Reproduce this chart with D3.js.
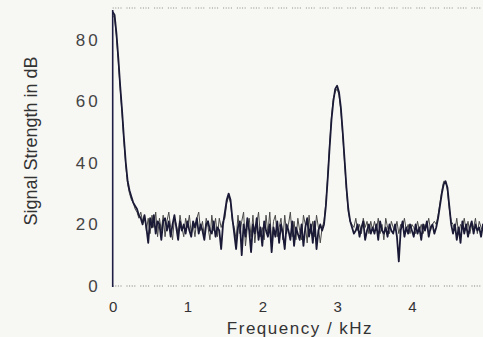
<!DOCTYPE html>
<html><head><meta charset="utf-8">
<script src="https://cdn.jsdelivr.net/npm/d3@7"></script>
<style>html,body{margin:0;padding:0;background:#f7f7f4;}svg{display:block;}</style>
</head><body>
<svg id="c" width="483" height="337"></svg>
<script>
const step = 0.025;
const traceMain = [
89,88,82,74,65,57,48,40,34,31,29,27,26,25,23,22,20,23,19,14,
22,19,23,17,21,20,15,21,22,18,21,16,20,23,19,15,21,18,20,17,
21,18,16,21,19,22,17,20,18,15,20,21,18,17,21,16,19,18,12,20,
24,28,30,28,22,17,12,19,21,10,20,16,22,18,11,20,17,22,15,19,
13,21,18,16,20,11,19,16,21,14,20,17,12,20,18,15,21,13,19,17,
15,20,13,19,22,16,20,14,21,12,18,20,18,20,26,35,45,54,60,64,
65,63,58,50,41,32,25,21,19,17,18,20,16,19,21,15,18,20,17,19,
17,20,15,21,18,17,19,16,20,18,17,20,16,8,18,21,16,19,17,20,
18,16,20,17,19,15,20,18,21,16,19,20,17,19,22,26,30,33,34,32,
26,20,17,20,15,19,14,21,17,20,16,19,21,17,20,18,19,16,20,18,
19];
const traceSecond = [
88,87,81,73,64,56,47,39,33,30,28,27,25,24,22,24,21,23,18,22,
17,23,19,24,16,22,18,23,16,21,24,19,15,22,20,17,23,19,16,22,
19,23,17,20,16,22,24,18,21,16,22,19,15,23,18,22,16,22,19,21,
22,27,29,27,21,19,15,23,17,21,24,13,19,22,16,23,14,20,24,16,
19,15,23,17,24,14,21,23,16,19,22,15,23,17,20,24,16,21,15,22,
18,15,23,20,14,23,17,21,16,23,19,14,19,21,27,36,46,55,61,63,
64,62,57,49,40,31,24,21,20,19,22,18,20,17,22,19,21,17,21,18,
21,18,22,17,20,15,22,19,17,21,19,18,21,17,20,19,22,18,20,17,
20,19,17,21,18,20,17,20,19,22,18,20,21,20,23,27,31,34,34,31,
25,21,20,18,22,17,20,19,22,18,21,17,20,19,22,17,21,19,18,20,
20];
const xTicks = [0,1,2,3,4,5];
const yTicks = [0,20,40,60,80];
const xLabel = "Frequency / kHz";
const yLabel = "Signal Strength in dB";

const FONT = "Liberation Sans, Arial, sans-serif";
const svg = d3.select("#c");
const x = d3.scaleLinear().domain([0,5]).range([112.7,486.7]);
const y = d3.scaleLinear().domain([0,90]).range([286,8.8]);

// frame dotted lines
svg.append("line").attr("x1",x(0)).attr("x2",483).attr("y1",8).attr("y2",8)
  .attr("stroke","#888").attr("stroke-width",1).attr("stroke-dasharray","1,1.6,1,1.6,1,1.6,1,5");
svg.append("line").attr("x1",x(0)).attr("x2",483).attr("y1",y(0)).attr("y2",y(0))
  .attr("stroke","#777").attr("stroke-width",1).attr("stroke-dasharray","1,1.6,1,1.6,1,1.6,1,5");
svg.append("line").attr("x1",x(0)).attr("x2",x(0)).attr("y1",10).attr("y2",y(0)+1)
  .attr("stroke","#1e1e44").attr("stroke-width",1.6);

// axes labels via d3 axes
const ya = d3.axisLeft(y).tickValues(yTicks).tickSize(0).tickPadding(12);
const gy = svg.append("g").attr("transform",`translate(${x(0)},0)`).call(ya);
gy.select(".domain").remove();
gy.selectAll("text").attr("font-family",FONT)
  .attr("font-size",17).attr("fill","#444").style("letter-spacing","3px");

const xa = d3.axisBottom(x).tickValues(xTicks).tickSize(0).tickPadding(15).tickFormat(d3.format("d"));
const gx = svg.append("g").attr("transform",`translate(0,${y(0)})`).call(xa);
gx.select(".domain").remove();
gx.selectAll("text").attr("font-family",FONT)
  .attr("font-size",15).attr("fill","#333");

svg.append("text").attr("x",300).attr("y",334).attr("text-anchor","middle")
  .attr("font-family",FONT).attr("font-size",17).attr("fill","#333")
  .style("letter-spacing","1.5px")
  .text(xLabel);
svg.append("text").attr("transform",`translate(37,${141}) rotate(-90)`).attr("text-anchor","middle")
  .attr("font-family",FONT).attr("font-size",18).attr("fill","#333")
  .text(yLabel);

svg.append("clipPath").attr("id","cp").append("rect")
  .attr("x",x(0)).attr("y",0).attr("width",483-x(0)).attr("height",y(0));
const line = d3.line().x((d,i)=>x(i*step)).y(d=>y(d));
svg.append("path").datum(traceSecond).attr("d",line).attr("fill","none")
  .attr("stroke","#4a4a4a").attr("stroke-width",1).attr("clip-path","url(#cp)");
svg.append("path").datum(traceMain).attr("d",line).attr("fill","none")
  .attr("stroke","#1a1a36").attr("stroke-width",1.8).attr("stroke-linejoin","round").attr("clip-path","url(#cp)");
</script>
</body></html>
